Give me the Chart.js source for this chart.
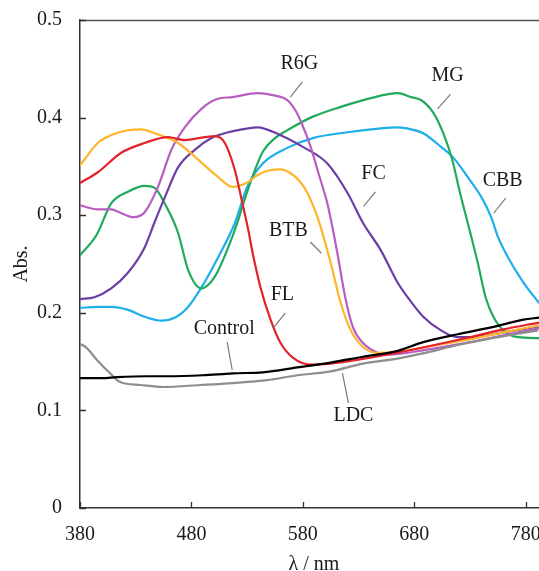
<!DOCTYPE html>
<html>
<head>
<meta charset="utf-8">
<script src="https://cdn.jsdelivr.net/npm/chart.js@4.4.1/dist/chart.umd.min.js"></script>
<style>
  html, body { margin: 0; padding: 0; background: #fff; overflow: hidden; }
  #wrap { width: 560px; height: 580px; }
</style>
</head>
<body>
<div id="wrap"><canvas id="c" width="560" height="580"></canvas></div>
<script>
// ---------- data ----------
const xTicks = [380, 480, 580, 680, 780];
const yTicks = [0, 0.1, 0.2, 0.3, 0.4, 0.5];

const controlWl  = [380,400,413,440,458,490,517,544,575,605,634,665,688,719,749,778,792];
const controlAbs = [0.133,0.133,0.134,0.135,0.135,0.136,0.138,0.139,0.144,0.149,0.155,0.161,0.170,0.178,0.185,0.193,0.195];

const ldcWl  = [380,385,395,407,416,434,455,488,517,548,575,605,634,665,690,719,750,791];
const ldcAbs = [0.168,0.165,0.152,0.138,0.129,0.126,0.124,0.126,0.128,0.131,0.136,0.140,0.148,0.153,0.159,0.167,0.174,0.182];

const flWl  = [380,396,417,438,459,474,492,501,510,519,525,531,535,542,551,560,571,587,605,630,660,690,730,760,792];
const flAbs = [0.333,0.344,0.364,0.374,0.380,0.377,0.380,0.381,0.374,0.346,0.316,0.285,0.261,0.226,0.193,0.169,0.154,0.147,0.148,0.152,0.158,0.165,0.175,0.183,0.190];

const btbWl  = [380,396,410,423,435,447,468,486,504,517,531,539,550,560,569,577,584,594,605,614,623,634,647,665,690,730,760,792];
const btbAbs = [0.351,0.374,0.383,0.387,0.388,0.384,0.374,0.357,0.339,0.329,0.334,0.341,0.346,0.347,0.343,0.335,0.323,0.295,0.251,0.210,0.182,0.165,0.159,0.160,0.165,0.173,0.180,0.187];

const r6gWl  = [380,396,408,417,428,438,450,462,474,489,503,517,539,553,566,573,579,587,594,602,607,611,618,625,634,647,656,690,730,760,792];
const r6gAbs = [0.310,0.306,0.306,0.302,0.298,0.303,0.329,0.367,0.390,0.409,0.419,0.421,0.425,0.423,0.418,0.408,0.394,0.370,0.343,0.312,0.285,0.261,0.216,0.185,0.169,0.159,0.157,0.162,0.170,0.177,0.184];

const fcWl  = [380,393,408,423,438,447,456,468,483,498,513,531,539,560,580,602,620,634,650,665,674,688,704,719,730,760,792];
const fcAbs = [0.214,0.216,0.225,0.241,0.267,0.293,0.318,0.349,0.367,0.379,0.385,0.389,0.390,0.382,0.370,0.353,0.323,0.292,0.264,0.231,0.216,0.196,0.182,0.175,0.175,0.180,0.186];

const mgWl  = [380,395,408,423,438,447,456,468,477,489,501,513,522,526,535,544,555,566,589,614,641,665,677,686,697,706,714,721,730,737,744,751,760,773,792];
const mgAbs = [0.259,0.280,0.312,0.324,0.330,0.328,0.312,0.282,0.244,0.225,0.237,0.267,0.295,0.310,0.340,0.365,0.379,0.387,0.401,0.411,0.420,0.425,0.421,0.418,0.405,0.384,0.357,0.323,0.283,0.251,0.216,0.196,0.182,0.175,0.174];

const cbbWl  = [380,395,408,423,438,453,465,477,489,504,519,530,544,566,589,620,650,665,677,688,704,715,728,740,749,755,764,778,792];
const cbbAbs = [0.205,0.206,0.206,0.203,0.196,0.192,0.195,0.206,0.226,0.257,0.292,0.329,0.353,0.369,0.379,0.385,0.389,0.390,0.388,0.384,0.370,0.359,0.339,0.319,0.298,0.278,0.257,0.231,0.210];

// ---------- series styling ----------
const series = [
  { name: 'Control', wl: controlWl, abs: controlAbs, color: '#000000' },
  { name: 'LDC',     wl: ldcWl,     abs: ldcAbs,     color: '#8e8e8e' },
  { name: 'FL',      wl: flWl,      abs: flAbs,      color: '#e3232b' },
  { name: 'BTB',     wl: btbWl,     abs: btbAbs,     color: '#ffb52a' },
  { name: 'R6G',     wl: r6gWl,     abs: r6gAbs,     color: '#b75ec0' },
  { name: 'FC',      wl: fcWl,      abs: fcAbs,      color: '#6c3fa6' },
  { name: 'MG',      wl: mgWl,      abs: mgAbs,      color: '#22aa5c' },
  { name: 'CBB',     wl: cbbWl,     abs: cbbAbs,     color: '#1eaeea' }
];

// annotation labels (data coordinates): text centre and leader line ends
const labels = [
  { text: 'R6G',     at: [576.9, 0.455], line: [[579.5, 0.4365], [568.8, 0.421]] },
  { text: 'MG',      at: [709.9, 0.4426], line: [[712.6, 0.424], [700.9, 0.409]] },
  { text: 'FC',      at: [643.4, 0.342], line: [[645.2, 0.324], [634.4, 0.309]] },
  { text: 'CBB',     at: [759.3, 0.335], line: [[762.0, 0.3176], [751.2, 0.302]] },
  { text: 'BTB',     at: [567.0, 0.284], line: [[586.7, 0.2725], [596.6, 0.261]] },
  { text: 'FL',      at: [561.6, 0.218], line: [[564.3, 0.1998], [553.5, 0.1844]] },
  { text: 'Control', at: [509.4, 0.1834], line: [[512.1, 0.170], [516.6, 0.1414]] },
  { text: 'LDC',     at: [625.4, 0.0943], line: [[615.5, 0.1383], [620.9, 0.1076]] }
];

const FONT = "'Liberation Serif', 'Times New Roman', serif";

const innerTicks = {
  id: 'innerTicks',
  afterDatasetsDraw(chart) {
    const { ctx, chartArea, scales } = chart;
    ctx.save();
    ctx.beginPath();
    ctx.strokeStyle = '#555';
    ctx.lineWidth = 1.5;
    ctx.moveTo(chartArea.left, chartArea.top + 0.5);
    ctx.lineTo(chartArea.right, chartArea.top + 0.5);
    ctx.stroke();
    ctx.strokeStyle = '#333';
    ctx.lineWidth = 1.3;
    ctx.beginPath();
    xTicks.forEach(v => {
      const px = Math.round(scales.x.getPixelForValue(v)) + 0.5;
      ctx.moveTo(px, chartArea.bottom);
      ctx.lineTo(px, chartArea.bottom - 6);
    });
    yTicks.forEach(v => {
      const py = Math.round(scales.y.getPixelForValue(v)) + 0.5;
      ctx.moveTo(chartArea.left, py);
      ctx.lineTo(chartArea.left + 6, py);
    });
    ctx.stroke();
    ctx.restore();
  }
};

const annotate = {
  id: 'annotate',
  afterDatasetsDraw(chart) {
    const { ctx, scales } = chart;
    ctx.save();
    ctx.font = '20px ' + FONT;
    ctx.fillStyle = '#1a1a1a';
    ctx.textAlign = 'center';
    ctx.textBaseline = 'middle';
    labels.forEach(l => {
      ctx.strokeStyle = '#7a7a7a';
      ctx.lineWidth = 1.2;
      ctx.beginPath();
      ctx.moveTo(scales.x.getPixelForValue(l.line[0][0]), scales.y.getPixelForValue(l.line[0][1]));
      ctx.lineTo(scales.x.getPixelForValue(l.line[1][0]), scales.y.getPixelForValue(l.line[1][1]));
      ctx.stroke();
      ctx.fillText(l.text, scales.x.getPixelForValue(l.at[0]), scales.y.getPixelForValue(l.at[1]));
    });
    ctx.restore();
  }
};

new Chart(document.getElementById('c'), {
  type: 'line',
  data: {
    datasets: series.map(s => ({
      label: s.name,
      data: s.wl.map((w, i) => ({ x: w, y: s.abs[i] })),
      borderColor: s.color,
      backgroundColor: s.color,
      borderWidth: 2.2,
      pointRadius: 0,
      cubicInterpolationMode: 'monotone',
      fill: false
    }))
  },
  options: {
    responsive: false,
    animation: false,
    devicePixelRatio: 1,
    layout: { padding: { top: 20, right: 12, left: 0, bottom: 0 } },
    plugins: { legend: { display: false }, tooltip: { enabled: false } },
    scales: {
      x: {
        type: 'linear',
        min: 380,
        max: 800,
        afterBuildTicks: s => { s.ticks = xTicks.map(v => ({ value: v })); },
        afterFit: s => { s.height = 72; s.paddingLeft = 0; s.paddingRight = 0; },
        grid: { display: true, drawOnChartArea: false, drawTicks: false },
        border: { display: true, color: '#333', width: 1.5 },
        ticks: { padding: 15, color: '#1a1a1a', font: { family: FONT, size: 20 }, maxRotation: 0,
                 callback: v => String(v) },
        title: { display: true, text: 'λ / nm', color: '#1a1a1a', font: { family: FONT, size: 20 },
                 padding: { top: 0, bottom: 3 } }
      },
      y: {
        type: 'linear',
        min: 0,
        max: 0.5,
        afterBuildTicks: s => { s.ticks = yTicks.map(v => ({ value: v })); },
        afterFit: s => { s.width = 80; s.paddingTop = 0; s.paddingBottom = 0; },
        grid: { display: true, drawOnChartArea: false, drawTicks: false },
        border: { display: true, color: '#333', width: 1.5 },
        ticks: { padding: 18, color: '#1a1a1a', font: { family: FONT, size: 20 },
                 callback: v => (v === 0 ? '0' : String(Math.round(v * 10) / 10)) },
        title: { display: true, text: 'Abs.', color: '#1a1a1a', font: { family: FONT, size: 20 },
                 padding: { top: 10, bottom: 0 } }
      }
    }
  },
  plugins: [innerTicks, annotate]
});
</script>
</body>
</html>
